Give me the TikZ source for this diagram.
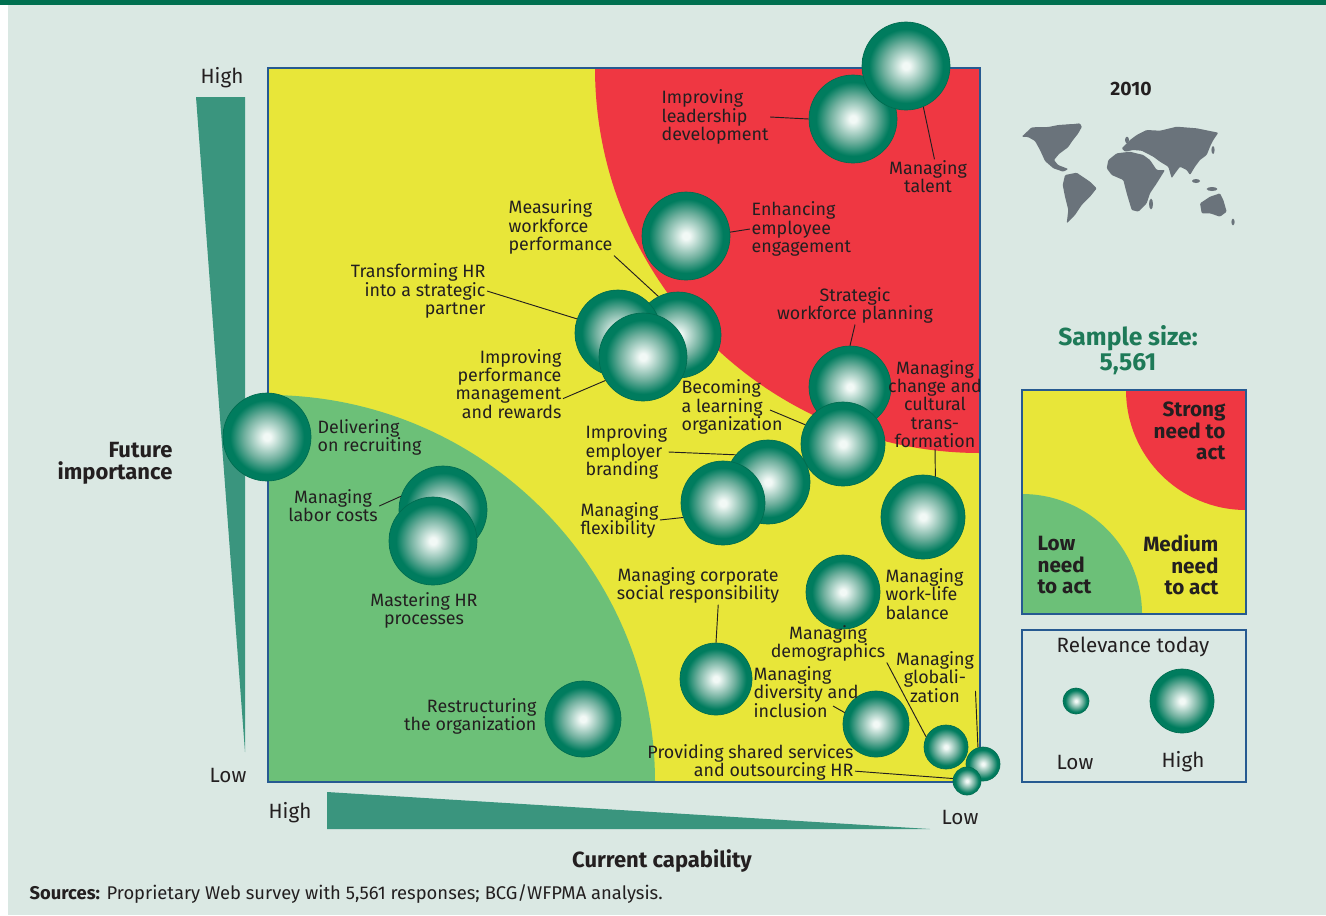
\documentclass[tikz,border=0pt]{standalone}
\usepackage{fontspec}
\setmainfont{Fira Sans}

\definecolor{bgc}{RGB}{218,232,227}
\definecolor{topgreen}{RGB}{0,112,80}
\definecolor{zoneyellow}{RGB}{232,230,57}
\definecolor{zonered}{RGB}{239,55,66}
\definecolor{zonegreen}{RGB}{108,192,120}
\definecolor{frameblue}{RGB}{38,90,145}
\definecolor{wedgeteal}{RGB}{58,149,126}
\definecolor{ink}{RGB}{35,31,32}
\definecolor{mapgray}{RGB}{106,115,123}
\definecolor{samplegreen}{RGB}{30,122,88}
\definecolor{bubhi}{RGB}{242,249,246}
\definecolor{bubmid}{RGB}{112,176,158}
\definecolor{bubdark}{RGB}{0,124,94}
\definecolor{bubedge}{RGB}{0,108,80}

\pgfdeclareradialshading{bubshade}{\pgfpoint{0bp}{0bp}}{color(0bp)=(bubhi); color(2bp)=(bubhi); color(13bp)=(bubmid); color(21bp)=(bubdark); color(25bp)=(bubdark); color(50bp)=(bubdark)}

\tikzset{
  bubble/.style={circle, inner sep=0pt, minimum size=#1*1.5pt, shading=bubshade, draw=bubedge, line width=0.5pt},
  lbl/.style={font=\fontsize{13.4}{13.6}\selectfont, text=ink, inner sep=1pt},
  leader/.style={draw=ink, line width=0.7pt},
  axislbl/.style={font=\fontsize{15.5}{17}\selectfont, text=ink, inner sep=1pt},
  boldlbl/.style={font=\fontsize{16.5}{16.5}\selectfont\bfseries, text=ink, inner sep=1pt},
  legendlbl/.style={font=\fontsize{15.5}{16}\selectfont\bfseries, text=ink, inner sep=1pt},
}

\begin{document}
\begin{tikzpicture}[x=0.75pt, y=-0.75pt]
    \useasboundingbox (0,0) rectangle (1326,915);

    % Background
    \fill[white] (0,0) rectangle (1326,915);
    \fill[bgc] (8,5) rectangle (1326,915);
    \fill[topgreen] (0,0) rectangle (1326,5);

    % Chart zones
    \begin{scope}
        \clip (268,68) rectangle (980,782);
        \fill[zoneyellow] (268,68) rectangle (980,782);
        \fill[zonered] (980,68) circle[radius=288.75pt];
        \fill[zonegreen] (268,782) circle[radius=290.25pt];
    \end{scope}
    \draw[frameblue, line width=1pt] (268,68) rectangle (980,782);

    % Axis wedges
    \fill[wedgeteal] (196,97) -- (245,97) -- (245,752) -- cycle;
    \fill[wedgeteal] (327,792) -- (930,829) -- (327,829) -- cycle;

    % Axis labels
    \node[axislbl] (highy) at (222,78) {High};
    \node[axislbl] (lowy) at (228,775) {Low};
    \node[boldlbl, anchor=east, align=right] (futurelbl) at (174,463) {Future\\importance};
    \node[axislbl] (highx) at (290,813) {High};
    \node[axislbl] (lowx) at (960,817) {Low};
    \node[boldlbl] (capability) at (662,861) {Current capability};
    \node[anchor=west, font=\fontsize{13.8}{15}\selectfont, text=ink, inner sep=1pt] (sources) at (28,894)
        {\textbf{Sources:} Proprietary Web survey with 5,561 responses; BCG/WFPMA analysis.};

    % Draw bubbles
    \node[bubble=44] (leader) at (853,119) {};
    \node[bubble=44] (talent) at (906,66) {};
    \node[bubble=44] (engage) at (686,236) {};
    \node[bubble=43] (measure) at (678,335) {};
    \node[bubble=43] (trans) at (618,333) {};
    \node[bubble=44] (perf) at (643,357) {};
    \node[bubble=41] (plan) at (850,387) {};
    \node[bubble=42] (learn) at (843,444) {};
    \node[bubble=42] (change) at (923,517) {};
    \node[bubble=42] (brand) at (768,482) {};
    \node[bubble=42] (flex) at (723,503) {};
    \node[bubble=44] (recruit) at (267,437) {};
    \node[bubble=44] (labor) at (443,510) {};
    \node[bubble=44] (master) at (433,541) {};
    \node[bubble=38] (restruct) at (583,719) {};
    \node[bubble=36] (csr) at (716,679) {};
    \node[bubble=37] (worklife) at (843,592) {};
    \node[bubble=33] (diverse) at (876,724) {};
    \node[bubble=22] (demo) at (946,747) {};
    \node[bubble=17] (global) at (983,764) {};
    \node[bubble=14] (shared) at (967,781) {};

    % Bubble labels
    \node[lbl, anchor=west, align=left] (leaderlbl) at (660,117) {Improving\\leadership\\development};
    \node[lbl, align=center] (talentlbl) at (928,177) {Managing\\talent};
    \node[lbl, anchor=west, align=left] (engagelbl) at (750,229) {Enhancing\\employee\\engagement};
    \node[lbl, anchor=west, align=left] (measurelbl) at (507,227) {Measuring\\workforce\\performance};
    \node[lbl, anchor=east, align=right] (translbl) at (487,291) {Transforming HR\\into a strategic\\partner};
    \node[lbl, anchor=east, align=right] (perflbl) at (563,384) {Improving\\performance\\management\\and rewards};
    \node[lbl, align=center] (planlbl) at (855,305) {Strategic\\workforce planning};
    \node[lbl, align=center] (changelbl) at (935,404) {Managing\\change and\\cultural\\trans-\\formation};
    \node[lbl, anchor=west, align=left] (learnlbl) at (680,407) {Becoming\\a learning\\organization};
    \node[lbl, anchor=west, align=left] (brandlbl) at (584,452) {Improving\\employer\\branding};
    \node[lbl, anchor=west, align=left] (flexlbl) at (579,520) {Managing\\flexibility};
    \node[lbl, anchor=west, align=left] (recruitlbl) at (316,437) {Delivering\\on recruiting};
    \node[lbl, align=center] (laborlbl) at (333,506) {Managing\\labor costs};
    \node[lbl, align=center] (masterlbl) at (424,610) {Mastering HR\\processes};
    \node[lbl, anchor=east, align=right] (restructlbl) at (538,716) {Restructuring\\the organization};
    \node[lbl, align=center] (csrlbl) at (698,585) {Managing corporate\\social responsibility};
    \node[lbl, anchor=west, align=left] (worklifelbl) at (884,594) {Managing\\work-life\\balance};
    \node[lbl, align=center] (demolbl) at (828,643) {Managing\\demographics};
    \node[lbl, anchor=west, align=left] (diverselbl) at (752,692) {Managing\\diversity and\\inclusion};
    \node[lbl, align=center] (globallbl) at (935,677) {Managing\\globali-\\zation};
    \node[lbl, anchor=east, align=right] (sharedlbl) at (855,762) {Providing shared services\\and outsourcing HR};

    % Leader lines
    \coordinate (learnend) at (770,410);
    \coordinate (diverseend) at (833,706);
    \draw[leader] (leaderlbl.east) -- (leader.180);
    \draw[leader] (talentlbl.70) -- (talent.-67);
    \draw[leader] (engage.5) -- (engagelbl.west);
    \draw[leader] (measurelbl.south east) -- (measure.117);
    \draw[leader] (translbl.east) -- (trans.161);
    \draw[leader] (perflbl.-15) -- (perf.212);
    \draw[leader] (planlbl.south) -- (plan.north);
    \draw[leader] (changelbl.south) -- (change.73);
    \draw[leader] (learnend) -- (learn.153);
    \draw[leader] (brandlbl.east) -- (brand.140);
    \draw[leader] (flexlbl.east) -- (flex.200);
    \draw[leader] (laborlbl.east) -- (labor.162);
    \draw[leader] (csrlbl.-44) -- (csr.north);
    \draw[leader] (demolbl.south east) -- (demo.153);
    \draw[leader] (diverseend) -- (diverse.160);
    \draw[leader] (globallbl.-19) -- (global.107);
    \draw[leader] (sharedlbl.-5) -- (shared.170);

    % Year and world map
    \node[font=\fontsize{14.5}{16}\selectfont\bfseries, text=ink] (year) at (1131,89) {2010};
    \begin{scope}[mapgray, rounded corners=0.8pt]
        \fill (1021.7,136.7) -- (1031.7,127.3) -- (1048.3,127) -- (1058.3,125) -- (1073.3,124) -- (1081.7,126.7)
            -- (1078.3,133.3) -- (1073,140) -- (1068,147.3) -- (1059,154) -- (1054,160) -- (1058,165)
            -- (1068.3,169) -- (1063.3,171.7) -- (1053.3,168.3) -- (1045,161) -- (1040,150) -- (1035,141)
            -- (1028,137) -- cycle;
        \fill (1065,125) -- (1080,123.3) -- (1082,127.5) -- (1076,133) -- (1069,131) -- cycle;
        \fill (1065,175) -- (1076.7,172.7) -- (1090,181.7) -- (1096.7,188.3) -- (1090,196.7) -- (1081.7,205)
            -- (1075,215) -- (1066.7,223.3) -- (1068.3,210) -- (1065,196.7) -- (1062.7,185) -- cycle;
        \fill (1121.7,148.3) -- (1130,140) -- (1136.7,135) -- (1146.7,130) -- (1160,130.7) -- (1176.7,126.7)
            -- (1196.7,128.3) -- (1218.3,132.7) -- (1213.3,140) -- (1210,146.7) -- (1206.7,155) -- (1200,160)
            -- (1195,166.7) -- (1190,175) -- (1186.7,170) -- (1180,166.7) -- (1175,173.3) -- (1171.7,178.3)
            -- (1168.3,166.7) -- (1160,161.7) -- (1153.3,156.7) -- (1146.7,153.3) -- (1141.7,150.7)
            -- (1133.3,150) -- (1125,151.7) -- cycle;
        \fill (1108.3,160) -- (1116.7,153.3) -- (1130,151.7) -- (1143.3,155) -- (1150,160) -- (1156.7,170)
            -- (1165,170) -- (1156.7,183.3) -- (1150,193.3) -- (1146.7,203.3) -- (1138.3,211.7) -- (1131.7,210)
            -- (1126.7,193.3) -- (1123.3,180) -- (1111.7,175) -- (1106.7,168.3) -- cycle;
        \fill (1200,203.3) -- (1210,196.7) -- (1220,193.3) -- (1223.3,200) -- (1226.7,211.7) -- (1220,216.7)
            -- (1210,213.3) -- (1201.7,213.3) -- cycle;
    \end{scope}
    \fill[mapgray] (1151,204) ellipse[x radius=1.5pt, y radius=4pt];
    \fill[mapgray] (1196,181) ellipse[x radius=3pt, y radius=1.5pt];
    \fill[mapgray] (1212,189) ellipse[x radius=4pt, y radius=1.5pt];
    \fill[mapgray] (1213,150) ellipse[x radius=1.2pt, y radius=3pt];
    \fill[mapgray] (1127,140) ellipse[x radius=1.5pt, y radius=2.5pt];
    \fill[mapgray] (1233,222) ellipse[x radius=1.2pt, y radius=2.5pt];

    % Sample size
    \node[font=\fontsize{18.5}{18.5}\selectfont\bfseries, text=samplegreen, align=center] (samplelbl) at (1128,350) {Sample size:\\5,561};

    % Legend: zones
    \begin{scope}
        \clip (1022,390) rectangle (1246,614);
        \fill[zoneyellow] (1022,390) rectangle (1246,614);
        \fill[zonered] (1246,390) circle[radius=90pt];
        \fill[zonegreen] (1022,614) circle[radius=90pt];
    \end{scope}
    \draw[frameblue, line width=1pt] (1022,390) rectangle (1246,614);
    \node[legendlbl, anchor=east, align=right] (stronglbl) at (1227,431) {Strong\\need to\\act};
    \node[legendlbl, anchor=west, align=left] (lowneedlbl) at (1036,565) {Low\\need\\to act};
    \node[legendlbl, anchor=east, align=right] (mediumlbl) at (1220,565) {Medium\\need\\to act};

    % Legend: relevance
    \draw[frameblue, line width=1pt] (1022,630) rectangle (1246,782);
    \node[axislbl] (relevance) at (1133,647) {Relevance today};
    \node[bubble=13] (legsmall) at (1076,701) {};
    \node[bubble=32] (legbig) at (1182,701) {};
    \node[axislbl] (lowleg) at (1075,762) {Low};
    \node[axislbl] (highleg) at (1183,762) {High};
\end{tikzpicture}
\end{document}
